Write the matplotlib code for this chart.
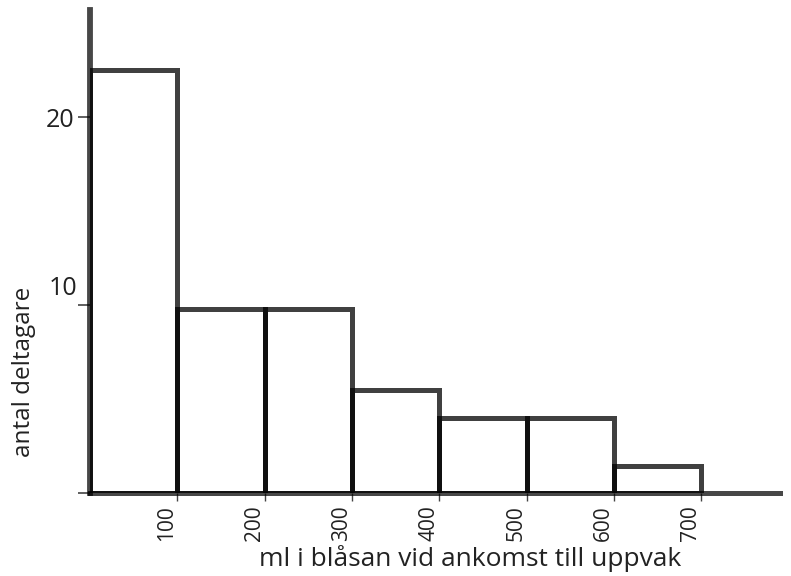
import matplotlib
matplotlib.use("Agg")
import matplotlib.pyplot as plt
from matplotlib.transforms import ScaledTranslation

# Data
bin_edges = [0, 100, 200, 300, 400, 500, 600]
bin_width = 100
counts = [22.5, 9.8, 9.8, 5.5, 4.0, 4.0, 1.45]
xtick_values = [100, 200, 300, 400, 500, 600, 700]
xtick_labels = ["100", "200", "300", "400", "500", "600", "700"]
ytick_values = [0, 10, 20]
ytick_labels = ["", "10", "20"]
xlabel = "ml i blåsan vid ankomst till uppvak"
ylabel = "antal deltagare"

plt.rcParams['font.family'] = ['Open Sans', 'DejaVu Sans']

W, H = 791, 576
fig = plt.figure(figsize=(W / 100, H / 100), dpi=100)
left, right, bottom, top = 90, 780, 493, 10
ax = fig.add_axes([left / W, 1 - bottom / H, (right - left) / W, (bottom - top) / H])

edge = (0, 0, 0, 0.75)
ax.bar(bin_edges, counts, width=bin_width, align='edge', fill=False,
       edgecolor=edge, linewidth=3.6, zorder=3)

ax.set_xlim(0, 790)
ax.set_ylim(0, 25.7)

for s in ['top', 'right']:
    ax.spines[s].set_visible(False)
ax.spines['left'].set_color((0, 0, 0, 0.72))
ax.spines['left'].set_linewidth(4.2)
ax.spines['bottom'].set_color((0, 0, 0, 0.72))
ax.spines['bottom'].set_linewidth(3.6)

ax.set_xticks(xtick_values)
ax.set_xticklabels(xtick_labels, rotation=90, ha='right', va='top', fontsize=15,
                   color='#222222')
ax.tick_params(axis='x', direction='out', length=6, width=1, color='#444444', pad=3)

ax.set_yticks(ytick_values)
ax.set_yticklabels(ytick_labels, fontsize=18, color='#222222')
ax.tick_params(axis='y', direction='out', length=9, width=1.2, color='#444444', pad=2)

# "10" label sits above its tick in the reference
ylabs = ax.get_yticklabels()
ylabs[1].set_va('bottom')
ylabs[1].set_transform(ylabs[1].get_transform() + ScaledTranslation(3 / 100, 4 / 100, fig.dpi_scale_trans))

fig.text(24 / W, 1 - 372 / H, ylabel, rotation=90, ha='center', va='center',
         fontsize=17.5, color='#222222')
fig.text(470 / W, 4 / H, xlabel, ha='center', va='bottom',
         fontsize=19, color='#222222')

fig.savefig("out.png", dpi=100)
